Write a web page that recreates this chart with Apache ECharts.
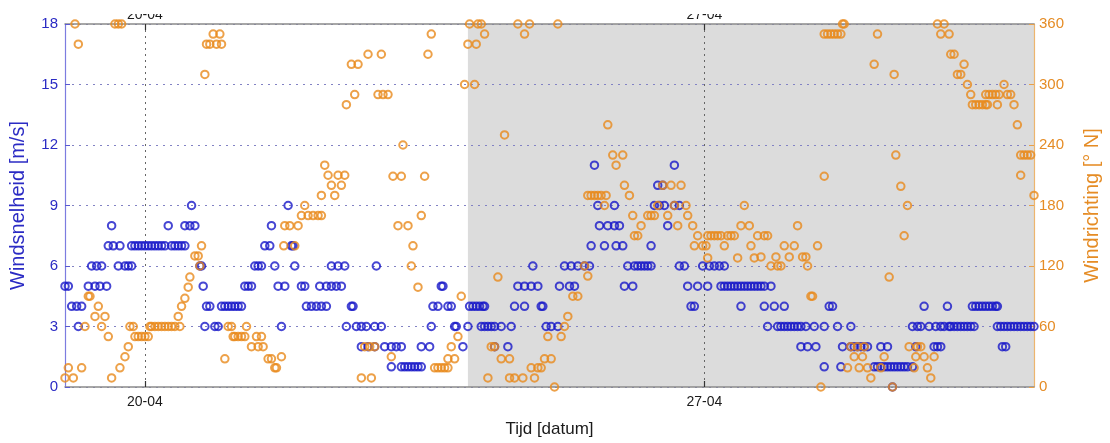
<!DOCTYPE html>
<html><head><meta charset="utf-8">
<script src="https://cdn.jsdelivr.net/npm/echarts@6/dist/echarts.min.js"></script>
<style>html,body{margin:0;padding:0;background:#fff}#c{width:1110px;height:443px}</style>
</head><body><div id="c"></div>
<script>
// x values: hours since 19-04 00:00
const xMaxHour = 291;
const tickHours = [24, 192];
const tickLabels = ['20-04', '27-04'];
const shadedPeriod = [121, 291];
const speedTicks = {min: 0, max: 18, step: 3};
const dirTicks = {min: 0, max: 360, step: 60};

// Windsnelheid [m/s]: [hour, value]
const windSpeed = [
[0,5],[1,5],[2,4],[3.5,4],[4,3],[5,4],[7,5],[8,6],[9,5],[9.5,6],[10.5,5],[11,6],[12.5,5],[13,7],[14,8],[14.5,7],[16,6],[16.5,7],[18,6],[19,6],[20,6],
[20,7],[21,7],[22,7],[23,7],[24,7],[25,7],[26,7],[27,7],[28,7],[29,7],[30,7],[31,8],[32,7],[33,7],[34,7],[35,7],[36,7],[36,8],[37.5,8],[38,9],[39,8],
[40.5,6],[41,6],[41.5,5],[42,3],[42.5,4],[43.5,4],[45,3],[46,3],
[47,4],[48,4],[49,4],[50,4],[51,4],[52,4],[53,4],[54,5],[55,5],[56,5],[57,6],[58,6],[59,6],[60,7],[61.5,7],[62,8],[63,6],[64,5],[65,3],[66,5],[67,9],[68,7],[68.5,7],[69,6],[71,5],[72,5],[72.5,4],[74,4],[75.5,4],[77,4],[78.5,4],[76.5,5],[78.5,5],[80,5],[81.5,5],[83,5],[80,6],[82,6],[84,6],[84.5,3],
[86,4],[86.5,4],[87.5,3],[89,3],[90.5,3],[93,3],[95,3],[89,2],[91,2],[93,2],[93.5,6],[96,2],[98,2],[99.5,2],[101,2],[98,1],[101,1],[102,1],[103,1],[104,1],[105,1],[106,1],[107,1],[107,2],[109.5,2],[110,3],[110.5,4],[112,4],[115,4],[116,4],[113,5],[113.5,5],[117,3],[117.5,3],[119.5,2],[121,3],[121.5,4],[122.5,4],[123.5,4],[124.5,4],[125.5,4],[126,4],
[125,3],[126,3],[127,3],[128,3],[129,3],[129,2],[133,2],[131,3],[134,3],[135,4],[138,4],[136,5],[138,5],[140,5],[142,5],[140.5,6],[143,4],[143.5,4],[144.5,3],[146,3],[148,3],[148.5,5],[151.5,5],[153,5],[150,6],[152,6],[154,6],[156,6],[157.5,6],[158,7],[162,7],[159,11],[160,9],[165,9],[160.5,8],[163,8],[165,8],[166.5,8],
[165.5,7],[167.5,7],[169,6],[168,5],[170.5,5],[171,6],[172,6],[173,6],[174,6],[175,6],[176,6],[176,7],[177,9],[178.5,9],[180,9],[178,10],[179.5,10],[181,8],[183,11],[183,9],[184.5,9],[184.5,6],[186,6],[187,5],[190,5],[193,5],[188,4],[189,4],[191.5,6],[193.5,6],[195,6],[196.5,6],[198,6],[197,5],[198,5],[199,5],[200,5],[201,5],[202,5],[203,5],[204,5],[205,5],[206,5],[207,5],[203,4],
[208,5],[209,5],[210,5],[212,5],[210,4],[213,4],[216,4],[211,3],[214,3],[215,3],[216,3],[217,3],[218,3],[219,3],[220,3],[221,3],[222.5,3],[225,3],[228,3],[232,3],[236,3],[221,2],[223,2],[225.5,2],[229.5,4],[230.5,4],[233.5,2],[236,2],[237,2],[238,2],[239,2],[240,2],[241,2],[228,1],[233,1],[245,2],[247,2],[243,1],[244,1],[245,1],[246,1],[247,1],[248,1],[249,1],
[250,1],[251,1],[252,1],[253,1],[254.5,1],[248.5,0],[255.5,2],[261,2],[262,2],[263,2],[254.5,3],[256,3],[257,3],[259.5,3],[261.5,3],[263,3],[264,3],[265.5,3],[266,3],[267,3],[268,3],[269,3],[270,3],[271,3],[272,3],[273,3],[258,4],[265,4],[272.5,4],[273.5,4],[274.5,4],[275.5,4],[276.5,4],[277.5,4],[278.5,4],[279.5,4],[280,4],[280,3],[281,3],[282,3],[283,3],[284,3],[285,3],[286,3],[287,3],[288,3],[289,3],[290,3],[291,3],[281.5,2],[282.5,2]
];

// Windrichting [graden N]: [hour, value]
const windDir = [
[0,9],[1,19],[2.5,9],[3,360],[4,340],[5,19],[6,60],[7,90],[7.5,90],[9,70],[10,80],[11,60],[12,70],[13,50],[14,9],[15,360],[16,360],[16.5,19],[17,360],[18,30],[19,40],[19.5,60],[20.5,60],[21,50],[22,50],[23,50],[24,50],[25,50],[25.5,60],[26,60],[27,60],[28,60],[29,60],[30,60],[31,60],[32,60],[33,60],[34,70],[34.5,60],[35,80],[36,88],[37,99],[37.5,109],[39,130],[40,130],[40.5,120],[41,140],[42,310],
[42.5,340],[43.5,340],[44.5,350],[45.5,340],[46.5,350],[47,340],[48,28],[49,60],[50,60],[50.5,50],[51,50],[52,50],[53,50],[54,50],[54.5,60],[56,40],[57.5,50],[58,40],[59,50],[59.5,40],[61,28],[62,28],[63,19],[63.5,19],[65,30],[66,160],[65.7,140],[67.5,160],[69,140],[70,160],[71,170],[72,180],[73,170],[74.5,170],[76,170],[77,170],[77,190],[78,220],[79,210],[80,200],[81,190],[82,210],[83,200],[84,210],[84.5,280],
[86,320],[87,290],[88,320],[89,9],[90,40],[91,330],[91.5,40],[92,9],[93,40],[94,290],[95,330],[95.5,290],[97,290],[98,30],[98.5,209],[100,160],[101,209],[101.5,240],[103,160],[104,120],[104.5,140],[106,99],[107,170],[108,209],[109,330],[110,350],[111,19],[112,19],[113,19],[114,19],[115,19],[115,28],[116,40],[117,28],[118,50],[119,90],[120,300],[121,340],[121.5,360],[123,300],[123.5,340],[124,360],[125,360],[126,350],[127,9],[128,40],[129,40],[130,109],[131,28],[132,250],[133.5,28],[133.5,9],[135,9],[136,360],[137.5,9],[138,350],[139.5,360],[140,19],[141,9],[142,19],[143,19],[144,28],[145,50],[146,28],[147,0],[148,360],[149,50],[150,60],[151,70],[152.5,90],[154,90],[156,120],[157,110],[157,190],[158,190],[159,190],[160,190],[161,190],[162,180],[162.5,190],[163,260],[164.5,230],[165.5,220],
[167.5,230],[168,200],[169.5,190],[170.5,170],[171,150],[172,150],[173,160],[175,170],[176,170],[177,170],[178,180],[179.5,200],[181,170],[182,200],[183,180],[184,160],[185,200],[186.5,180],[187,170],[188.5,160],[189,140],[190,150],[191.5,140],[192.5,140],[193,128],[193,150],[194,150],[195,150],[196,150],[197,150],[198,140],[199,150],[200,150],[201,150],[202,128],[203,160],[204,180],[205.5,160],[206,140],[207,128],
[208,150],[209,129],[210,150],[211,150],[212,120],[213.5,129],[214,120],[215,120],[216,140],[217.5,129],[219,140],[220,160],[221.5,129],[222.5,129],[223,120],[224,90],[224.5,90],[226,140],[227,0],[228,209],[228,350],[229,350],[230,350],[231,350],[232,350],[233,350],[233.5,360],[234,360],[235,19],[236,40],[237,30],[238,40],[238.5,19],[239.5,30],[240,40],[241,19],[242,9],[243,320],[244,350],[245,19],[246,30],[247.5,109],[249,310],[249.5,230],[248.5,0],
[251,199],[252,150],[253,180],[253.5,40],[255,19],[255.5,30],[256,40],[257,40],[258,30],[259,19],[260,9],[261,30],[262,360],[263,350],[264,360],[265.5,350],[266,330],[267,330],[268,310],[269,310],[270,320],[271,300],[272,290],[272.5,280],[273.5,280],[274.5,280],[275.5,280],[276.5,280],[277,280],[276.5,290],[277.5,290],[278.5,290],[279.5,290],[280,280],[280.5,290],[282,300],[283,290],[284,290],[285,280],[286,260],[287,210],[287,230],[288,230],[289,230],[290,230],[291,190]
];

const BLUE = '#1818c8';
const ORANGE = '#e8891c';
const FONT = 'Liberation Sans, Arial, sans-serif';
const fmt = v => { const i = tickHours.indexOf(v); return i >= 0 ? tickLabels[i] : ''; };

const chart = echarts.init(document.getElementById('c'), null, {renderer: 'canvas'});
chart.setOption({
  animation: false,
  backgroundColor: '#ffffff',
  textStyle: {fontFamily: FONT},
  grid: {left: 60, right: 62, top: 24, bottom: 47, containLabel: false},
  xAxis: [
    {type: 'value', min: 0, max: xMaxHour, position: 'bottom', z: 1.5,
     axisLine: {show: true, onZero: false, lineStyle: {color: '#8a8a8a', width: 1.5}},
     axisTick: {show: true, inside: true, length: 6, customValues: tickHours, lineStyle: {color: '#333', width: 1.2}},
     axisLabel: {customValues: tickHours, formatter: fmt, color: '#1a1a1a', fontSize: 14, margin: 8, fontFamily: FONT},
     splitLine: {show: true, lineStyle: {type: [2, 4], color: '#666', width: 1}},
     name: 'Tijd [datum]', nameLocation: 'middle', nameGap: 34,
     nameTextStyle: {color: '#1a1a1a', fontSize: 17, fontFamily: FONT}},
    {type: 'value', min: 0, max: xMaxHour, position: 'top', z: 1.5,
     axisLine: {show: true, onZero: false, lineStyle: {color: '#8a8a8a', width: 1.5}},
     axisTick: {show: true, inside: true, length: 6, customValues: tickHours, lineStyle: {color: '#333', width: 1.2}},
     axisLabel: {customValues: tickHours, formatter: fmt, color: '#1a1a1a', fontSize: 14, margin: 2, fontFamily: FONT},
     splitLine: {show: false}}
  ],
  yAxis: [
    {type: 'value', min: speedTicks.min, max: speedTicks.max, interval: speedTicks.step, position: 'left', z: 1.5,
     axisLine: {show: true, onZero: false, lineStyle: {color: '#7c7ce0', width: 1.2}},
     axisTick: {show: true, inside: true, length: 5, lineStyle: {color: '#5a5ad0'}},
     axisLabel: {color: '#2b2bc4', fontSize: 15, margin: 7, fontFamily: FONT},
     splitLine: {show: true, lineStyle: {type: [2, 5], color: '#8282c4', width: 1}},
     name: 'Windsnelheid [m/s]', nameLocation: 'middle', nameRotate: 90, nameGap: 37,
     nameTextStyle: {color: '#2b2bc4', fontSize: 20, fontFamily: FONT}},
    {type: 'value', min: dirTicks.min, max: dirTicks.max, interval: dirTicks.step, position: 'right', z: 1.5,
     axisLine: {show: true, onZero: false, lineStyle: {color: '#edb56e', width: 1.2}},
     axisTick: {show: true, inside: true, length: 5, lineStyle: {color: '#e8a04a'}},
     axisLabel: {color: '#e58c25', fontSize: 15, margin: 5, fontFamily: FONT},
     splitLine: {show: false},
     name: 'Windrichting [° N]', nameLocation: 'middle', nameRotate: 90, nameGap: 48,
     nameTextStyle: {color: '#e58c25', fontSize: 20, fontFamily: FONT}}
  ],
  graphic: [
    {type: 'rect', shape: {x: 90, y: 0, width: 960, height: 14}, style: {fill: '#ffffff'}, z: 100, silent: true}
  ],
  series: [
    {type: 'scatter', name: 'Windsnelheid', xAxisIndex: 0, yAxisIndex: 0, z: 3,
     data: windSpeed, symbol: 'circle', symbolSize: 7.5,
     itemStyle: {color: 'rgba(0,0,0,0)', borderColor: BLUE, borderWidth: 2},
     markArea: {silent: true, z: 1, itemStyle: {color: '#dcdcdc'},
       data: [[{xAxis: shadedPeriod[0]}, {xAxis: shadedPeriod[1]}]]}},
    {type: 'scatter', name: 'Windrichting', xAxisIndex: 0, yAxisIndex: 1, z: 3,
     data: windDir, symbol: 'circle', symbolSize: 7.5,
     itemStyle: {color: 'rgba(0,0,0,0)', borderColor: ORANGE, borderWidth: 2}}
  ]
});
</script></body></html>
